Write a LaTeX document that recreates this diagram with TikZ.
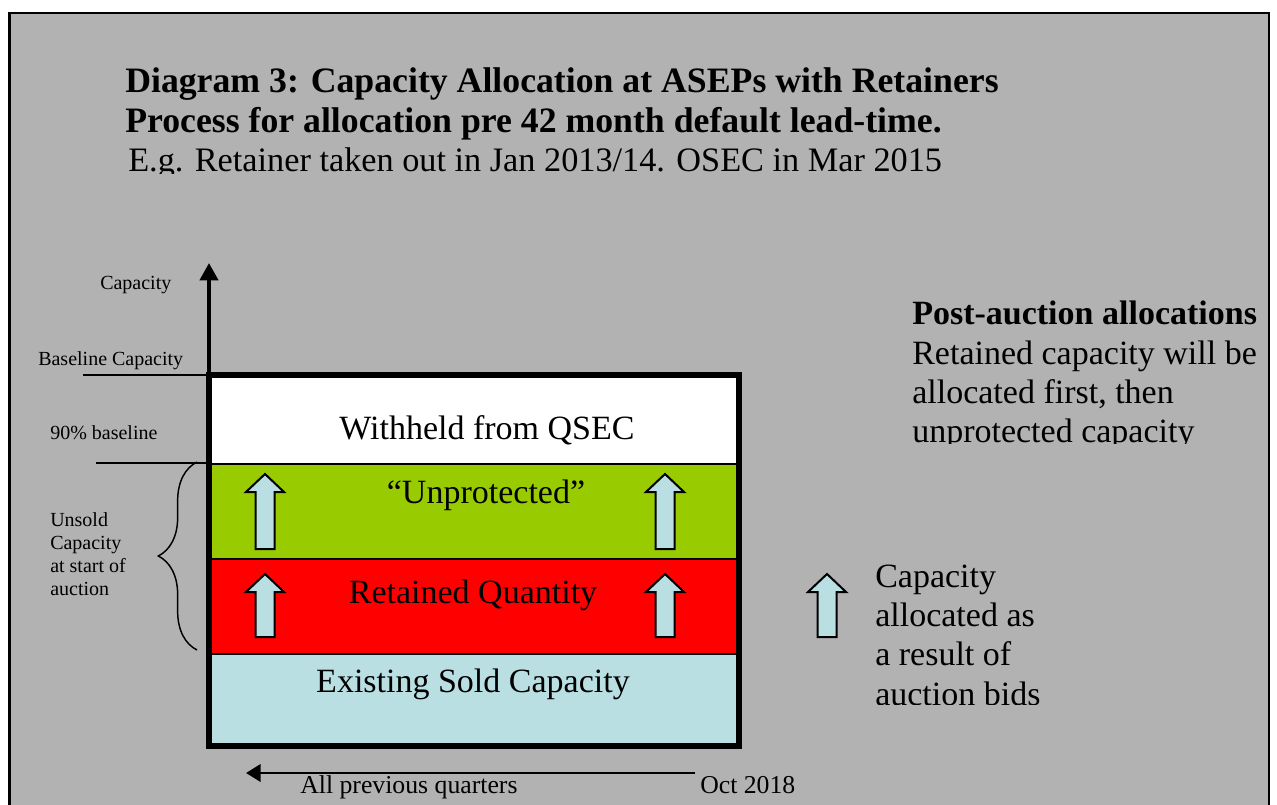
\documentclass[tikz,border=0pt]{standalone}
\usepackage{fontspec}
\setmainfont{Liberation Serif}
\usepackage{tikz}
\usetikzlibrary{positioning}
\usetikzlibrary{arrows.meta}
\usetikzlibrary{decorations.pathreplacing}
\definecolor{bggrey}{RGB}{178,178,178}
\definecolor{unprotgreen}{RGB}{153,204,0}
\definecolor{retainedred}{RGB}{255,0,0}
\definecolor{soldblue}{RGB}{185,223,227}

\begin{document}
\begin{tikzpicture}[x=0.75pt,y=-0.75pt,
  lbl/.style={inner sep=0pt,anchor=base west},
  small/.style={lbl,font=\fontsize{15}{17}\selectfont},
  big/.style={lbl,font=\fontsize{25.5}{29}\selectfont},
  band/.style={inner sep=0pt,anchor=base,font=\fontsize{25.5}{29}\selectfont},
  tick/.style={line width=1.1pt},
  sep/.style={line width=2.2pt},
  blk/.style={draw=black,line width=1.5pt,fill=soldblue,line join=miter}]
  \clip (0,0) rectangle (1277,805);
  \fill[white] (0,0) rectangle (1277,805);
  \draw[line width=2.2pt,fill=bggrey] (9.5,13) rectangle (1269,830);
  % title
  \node[lbl,font=\fontsize{26.8}{30}\selectfont\bfseries] (title) at (125,93) {Diagram 3: Capacity Allocation at ASEPs with Retainers};
  \node[lbl,font=\fontsize{26.8}{30}\selectfont\bfseries] (process) at (125,133) {Process for allocation pre 42 month default lead-time.};
  \begin{scope}
    \clip (100,140) rectangle (1000,173.5);
    \node[lbl,font=\fontsize{25.7}{29}\selectfont] (example) at (128,172) {E.g. Retainer taken out in Jan 2013/14. OSEC in Mar 2015};
  \end{scope}
  % bands
  \fill[soldblue] (209,654) rectangle (739,746);
  \fill[retainedred] (209,559) rectangle (739,654);
  \fill[unprotgreen] (209,464) rectangle (739,559);
  \fill[white] (209,375) rectangle (739,464);
  \draw[sep] (209,464) -- (739,464);
  \draw[sep] (209,559) -- (739,559);
  \draw[sep] (209,654) -- (739,654);
  \draw[line width=4.5pt] (209,375) rectangle (739,746);
  \node[band] (withheld) at (487,439) {Withheld from QSEC};
  \node[band] (unprot) at (486,503) {“Unprotected”};
  \node[band] (retained) at (473,603) {Retained Quantity};
  \node[band] (sold) at (473,692) {Existing Sold Capacity};
  % block arrows
  \foreach \ax/\tip/\bot in {265/474/549, 665/474/549, 265/574/637, 665/574/637, 827/574/637}
    \draw[blk] (\ax-9.5,\bot) -- (\ax-9.5,\tip+18) -- (\ax-19,\tip+18) -- (\ax,\tip)
      -- (\ax+19,\tip+18) -- (\ax+9.5,\tip+18) -- (\ax+9.5,\bot) -- cycle;
  % axes
  \coordinate (origin) at (209,746);
  \coordinate (ytop) at (209,263);
  \draw[line width=3pt,-{Triangle[length=13pt,width=13.5pt]}] (origin) -- (ytop);
  \coordinate (tnow) at (695,773);
  \coordinate (tpast) at (246,773);
  \draw[line width=2.2pt,-{Triangle[length=11pt,width=13pt]}] (tnow) -- (tpast);
  \node[lbl,font=\fontsize{19.3}{22}\selectfont] (quarters) at (300,793) {All previous quarters};
  \node[lbl,font=\fontsize{19.3}{22}\selectfont] (oct) at (700,793) {Oct 2018};
  % left labels
  \node[small] (cap) at (100,290) {Capacity};
  \node[small] (baseline) at (38,365) {Baseline Capacity};
  \draw[tick] (83,375) -- (origin |- 0,375);
  \node[small] (ninety) at (50,439) {90\% baseline};
  \draw[tick] (96,463) -- (origin |- 0,463);
  \foreach \txt [count=\i] in {Unsold, Capacity, at start of, auction}
    \node[small] (unsold\i) at (50,503+23*\i) {\txt};
  \coordinate (brbot) at (197,650);
  \coordinate (brtop) at (197,462);
  \draw[tick,decorate,decoration={brace,amplitude=29pt}] (brbot) -- (brtop);
  % right text
  \node[lbl,font=\fontsize{25.5}{29}\selectfont\bfseries] (post) at (912,325) {Post-auction allocations};
  \begin{scope}
    \clip (900,330) rectangle (1265,443.5);
    \foreach \txt [count=\i] in {Retained capacity will be, {allocated first, then}, unprotected capacity}
      \node[big] (rule\i) at (912,325+39.2*\i) {\txt};
  \end{scope}
  % legend
  \begin{scope}
    \clip (860,550) rectangle (1100,704);
    \foreach \txt [count=\i] in {Capacity, allocated as, a result of, auction bids}
      \node[big] (legend\i) at (875,548+39.3*\i) {\txt};
  \end{scope}
\end{tikzpicture}
\end{document}
